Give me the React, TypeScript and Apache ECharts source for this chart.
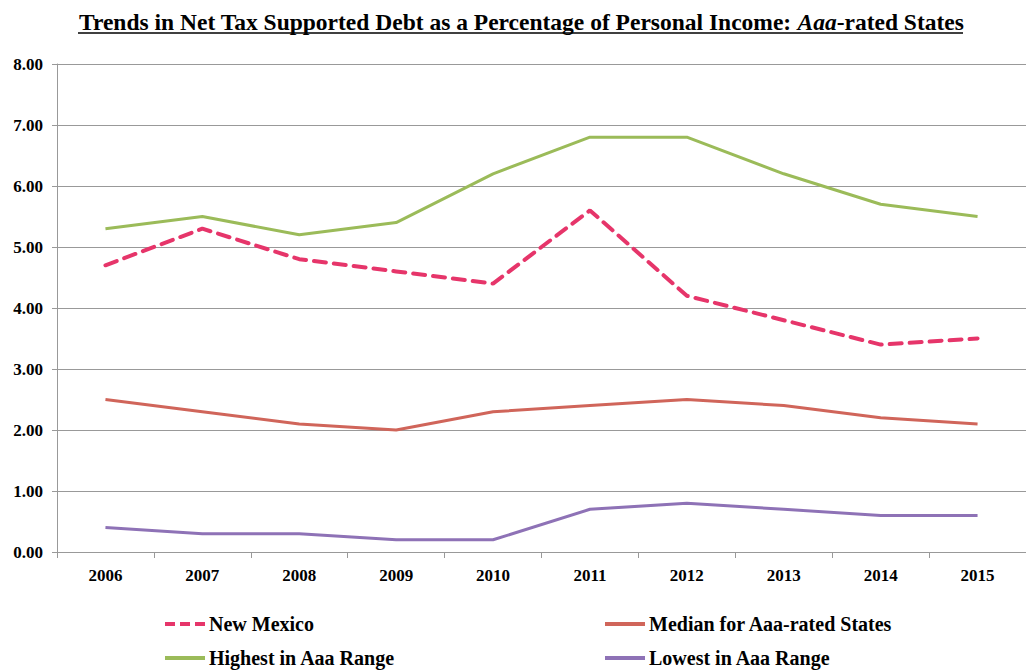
import React, { useEffect, useRef } from "react";
import * as echarts from "echarts";

const years = ["2006", "2007", "2008", "2009", "2010", "2011", "2012", "2013", "2014", "2015"];
const newMexico = [4.7, 5.3, 4.8, 4.6, 4.4, 5.6, 4.2, 3.8, 3.4, 3.5];
const median = [2.5, 2.3, 2.1, 2.0, 2.3, 2.4, 2.5, 2.4, 2.2, 2.1];
const highest = [5.3, 5.5, 5.2, 5.4, 6.2, 6.8, 6.8, 6.2, 5.7, 5.5];
const lowest = [0.4, 0.3, 0.3, 0.2, 0.2, 0.7, 0.8, 0.7, 0.6, 0.6];

const FONT = "'Liberation Serif', 'Times New Roman', serif";
const DASH_ICON = "path://M0,0h10v4h-10z M15,0h10v4h-10z M30,0h10v4h-10z";
const SOLID_ICON = "path://M0,0h40v4h-40z";

export default function App() {
  const ref = useRef<HTMLDivElement>(null);
  useEffect(() => {
    document.body.style.margin = "0";
    const chart = echarts.init(ref.current!, null, { renderer: "svg" });
    const legendBase = {
      itemWidth: 40,
      itemHeight: 4,
      itemGap: 4,
      padding: 0,
      textStyle: { fontFamily: FONT, fontWeight: "bold", fontSize: 20, color: "#000", padding: [0, 0, 0, -1] },
    };
    chart.setOption({
      animation: false,
      backgroundColor: "#fff",
      title: {
        left: 74,
        top: 5,
        text: "{b|Trends in Net Tax Supported Debt as a Percentage of Personal Income: }{i|Aaa}{b|-rated States}",
        textStyle: {
          rich: {
            b: { fontFamily: FONT, fontWeight: "bold", fontSize: 23.5, color: "#000" },
            i: { fontFamily: FONT, fontWeight: "bold", fontStyle: "italic", fontSize: 23.5, color: "#000" },
          },
        },
      },
      graphic: [
        { type: "line", shape: { x1: 78, y1: 33, x2: 963, y2: 33 }, style: { stroke: "#000", lineWidth: 1.5 } },
      ],
      legend: [
        { ...legendBase, data: [{ name: "New Mexico", icon: DASH_ICON }], left: 165, top: 614 },
        { ...legendBase, data: [{ name: "Median for Aaa-rated States", icon: SOLID_ICON }], left: 605, top: 614 },
        { ...legendBase, data: [{ name: "Highest in Aaa Range", icon: SOLID_ICON }], left: 165, top: 648 },
        { ...legendBase, data: [{ name: "Lowest in Aaa Range", icon: SOLID_ICON }], left: 605, top: 648 },
      ],
      grid: { left: 57, top: 64, width: 980, height: 488 },
      xAxis: {
        type: "category",
        data: years,
        boundaryGap: true,
        axisLine: { lineStyle: { color: "#999", width: 1 } },
        axisTick: { show: true, length: 6, lineStyle: { color: "#999" } },
        axisLabel: { fontFamily: FONT, fontWeight: "bold", fontSize: 17, color: "#000", margin: 15 },
      },
      yAxis: {
        type: "value",
        min: 0,
        max: 8,
        interval: 1,
        axisLine: { show: true, lineStyle: { color: "#999", width: 1 } },
        axisTick: { show: true, length: 5, lineStyle: { color: "#999" } },
        splitLine: { lineStyle: { color: "#999", width: 1 } },
        axisLabel: {
          fontFamily: FONT,
          fontWeight: "bold",
          fontSize: 17,
          color: "#000",
          margin: 14,
          formatter: (v: number) => v.toFixed(2),
        },
      },
      series: [
        {
          name: "New Mexico",
          type: "line",
          data: newMexico,
          symbol: "none",
          color: "#E6356A",
          lineStyle: { width: 4, type: [12, 8], cap: "round", color: "#E6356A" },
        },
        {
          name: "Median for Aaa-rated States",
          type: "line",
          data: median,
          symbol: "none",
          color: "#D0655A",
          lineStyle: { width: 3, color: "#D0655A" },
        },
        {
          name: "Highest in Aaa Range",
          type: "line",
          data: highest,
          symbol: "none",
          color: "#9BBB59",
          lineStyle: { width: 3, color: "#9BBB59" },
        },
        {
          name: "Lowest in Aaa Range",
          type: "line",
          data: lowest,
          symbol: "none",
          color: "#8E72B6",
          lineStyle: { width: 3, color: "#8E72B6" },
        },
      ],
    });
    return () => chart.dispose();
  }, []);
  return <div ref={ref} style={{ position: "absolute", left: 0, top: 0, width: 1026, height: 671 }} />;
}
